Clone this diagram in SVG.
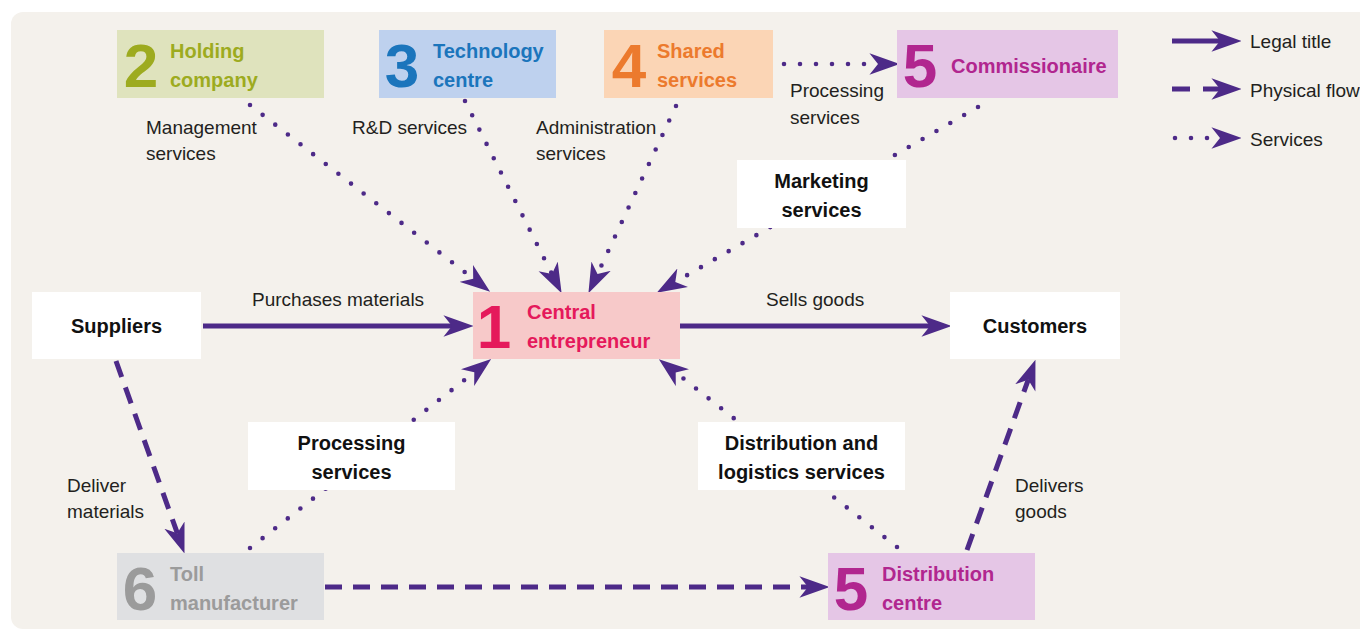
<svg xmlns="http://www.w3.org/2000/svg" width="1360" height="631" viewBox="0 0 1360 631">
<defs>
<marker id="ah" markerUnits="userSpaceOnUse" markerWidth="30" markerHeight="22" viewBox="0 0 28 20" refX="8" refY="10" orient="auto">
<path d="M0,0 L28,10 L0,20 L8,10 Z" fill="#4d2a88"/>
</marker>
<style>
text{font-family:"Liberation Sans",Arial,sans-serif;}
.lbl{font-size:19px;fill:#231f20;}
.bl{font-size:20px;font-weight:bold;fill:#111;}
.ttl{font-size:20px;font-weight:bold;}
.num{font-size:62px;font-weight:bold;text-anchor:middle;}
.solid{stroke:#4d2a88;stroke-width:5;fill:none;marker-end:url(#ah);}
.dash{stroke:#4d2a88;stroke-width:5;fill:none;stroke-dasharray:17 11;marker-end:url(#ah);}
.dot{stroke:#4d2a88;stroke-width:4.6;fill:none;stroke-linecap:round;stroke-dasharray:0 16;marker-end:url(#ah);}
.wb{fill:#ffffff;}
</style>
</defs>
<rect x="0" y="0" width="1360" height="631" fill="#ffffff"/>
<rect x="11" y="12" width="1370" height="617" rx="12" fill="#f4f1ec"/>

<g id="connectors">
<line class="solid" x1="203" y1="326" x2="452" y2="326"/>
<line class="solid" x1="680" y1="326" x2="930" y2="326"/>
<line class="dot" x1="784" y1="64" x2="878" y2="64"/>
<line class="dot" x1="250" y1="105" x2="473.2" y2="278.7"/>
<line class="dot" x1="465" y1="101" x2="552" y2="274.1"/>
<line class="dot" x1="676" y1="106" x2="597.5" y2="273.9"/>
<line class="dot" x1="978" y1="107" x2="675.3" y2="282"/>
<line class="dot" x1="250" y1="548" x2="474.3" y2="372.3"/>
<line class="dot" x1="897" y1="547" x2="675.7" y2="372.4"/>
<line class="dash" x1="116" y1="361" x2="177.3" y2="533.2"/>
<line class="dash" x1="325" y1="587" x2="808" y2="587"/>
<line class="dash" x1="967" y1="550" x2="1028.2" y2="379.8"/>
</g>

<g id="connector-labels">
<text class="lbl" x="146" y="134">Management</text>
<text class="lbl" x="146" y="160">services</text>
<text class="lbl" x="352" y="134">R&amp;D services</text>
<text class="lbl" x="536" y="134">Administration</text>
<text class="lbl" x="536" y="160">services</text>
<text class="lbl" x="790" y="97">Processing</text>
<text class="lbl" x="790" y="124">services</text>
<text class="lbl" x="252" y="306">Purchases materials</text>
<text class="lbl" x="766" y="306">Sells goods</text>
<text class="lbl" x="67" y="492">Deliver</text>
<text class="lbl" x="67" y="518">materials</text>
<text class="lbl" x="1015" y="492">Delivers</text>
<text class="lbl" x="1015" y="518">goods</text>
<g id="lbl-marketing">
<rect class="wb" x="737" y="160" width="169" height="68"/>
<text class="bl" x="821.5" y="188" text-anchor="middle">Marketing</text>
<text class="bl" x="821.5" y="217" text-anchor="middle">services</text>
</g>
<g id="lbl-processing">
<rect class="wb" x="248" y="422" width="207" height="68"/>
<text class="bl" x="351.5" y="450" text-anchor="middle">Processing</text>
<text class="bl" x="351.5" y="479" text-anchor="middle">services</text>
</g>
<g id="lbl-distribution">
<rect class="wb" x="698" y="422" width="207" height="68"/>
<text class="bl" x="801.5" y="450" text-anchor="middle">Distribution and</text>
<text class="bl" x="801.5" y="479" text-anchor="middle">logistics services</text>
</g>
</g>

<g id="holding">
<rect x="117" y="30" width="207" height="68" fill="#dfe3bd"/>
<text class="num" x="141" y="87" fill="#9dab1f">2</text>
<text class="ttl" x="170" y="58" fill="#9dab1f">Holding</text>
<text class="ttl" x="170" y="87" fill="#9dab1f">company</text>
</g>
<g id="technology">
<rect x="379" y="30" width="177" height="68" fill="#bed1ee"/>
<text class="num" x="402" y="87" fill="#1b75bc">3</text>
<text class="ttl" x="433" y="58" fill="#1b75bc">Technology</text>
<text class="ttl" x="433" y="87" fill="#1b75bc">centre</text>
</g>
<g id="shared">
<rect x="604" y="30" width="169" height="68" fill="#fbd5b5"/>
<text class="num" x="629" y="87" fill="#ec7a2d">4</text>
<text class="ttl" x="657" y="58" fill="#ec7a2d">Shared</text>
<text class="ttl" x="657" y="87" fill="#ec7a2d">services</text>
</g>
<g id="commissionaire">
<rect x="897" y="30" width="221" height="68" fill="#e5c6e6"/>
<text class="num" x="920" y="87" fill="#b1268f">5</text>
<text class="ttl" x="951" y="73" fill="#b1268f">Commissionaire</text>
</g>
<g id="central">
<rect x="473" y="292" width="207" height="67" fill="#f7c9c9"/>
<text class="num" x="494" y="348" fill="#e5195b">1</text>
<text class="ttl" x="527" y="319" fill="#e5195b">Central</text>
<text class="ttl" x="527" y="348" fill="#e5195b">entrepreneur</text>
</g>
<g id="suppliers">
<rect class="wb" x="32" y="292" width="169" height="67"/>
<text class="bl" x="116.5" y="333" text-anchor="middle">Suppliers</text>
</g>
<g id="customers">
<rect class="wb" x="950" y="292" width="170" height="67"/>
<text class="bl" x="1035" y="333" text-anchor="middle">Customers</text>
</g>
<g id="toll">
<rect x="117" y="553" width="207" height="67" fill="#dfe0e2"/>
<text class="num" x="140" y="610" fill="#9b9b9b">6</text>
<text class="ttl" x="170" y="581" fill="#9b9b9b">Toll</text>
<text class="ttl" x="170" y="610" fill="#9b9b9b">manufacturer</text>
</g>
<g id="distribution">
<rect x="828" y="553" width="207" height="67" fill="#e5c6e6"/>
<text class="num" x="851" y="610" fill="#b1268f">5</text>
<text class="ttl" x="882" y="581" fill="#b1268f">Distribution</text>
<text class="ttl" x="882" y="610" fill="#b1268f">centre</text>
</g>

<g id="legend">
<line class="solid" x1="1172" y1="41" x2="1220" y2="41"/>
<text class="lbl" x="1250" y="48">Legal title</text>
<line class="dash" x1="1172" y1="89" x2="1220" y2="89" style="stroke-dasharray:18 13"/>
<text class="lbl" x="1250" y="97">Physical flow</text>
<line class="dot" x1="1175" y1="138" x2="1220" y2="138"/>
<text class="lbl" x="1250" y="146">Services</text>
</g>
</svg>
